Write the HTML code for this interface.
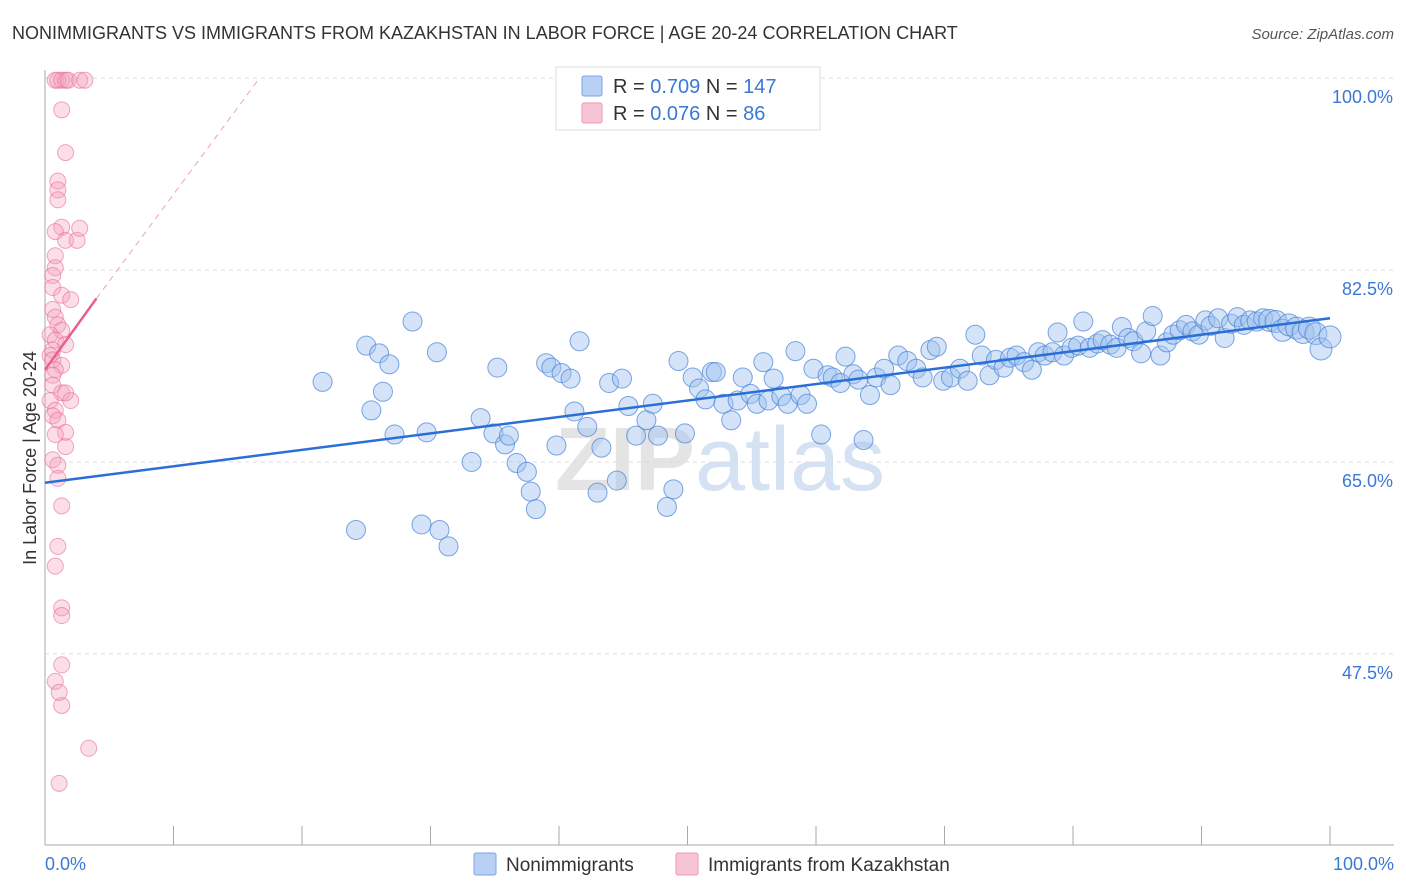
<!DOCTYPE html>
<html><head><meta charset="utf-8"><style>
body{margin:0;background:#fff;font-family:"Liberation Sans",sans-serif}
#wrap{position:relative;width:1406px;height:892px;overflow:hidden}
svg text{font-family:"Liberation Sans",sans-serif}
</style></head><body>
<div id="wrap">
<svg id="c" width="1406" height="892">
<text x="12" y="39" font-size="18" fill="#333">NONIMMIGRANTS VS IMMIGRANTS FROM KAZAKHSTAN IN LABOR FORCE | AGE 20-24 CORRELATION CHART</text>
<text x="1394" y="39" font-size="15" fill="#555" font-style="italic" text-anchor="end">Source: ZipAtlas.com</text>
<text x="36" y="458" font-size="18" fill="#333" text-anchor="middle" transform="rotate(-90 36 458)">In Labor Force | Age 20-24</text>
<text x="720" y="490" font-size="90" fill="#e4e4e4" text-anchor="middle" font-weight="bold">ZIP<tspan fill="#d5e2f3" font-weight="normal">atlas</tspan></text>
<g id="grid"></g><g id="marks"></g>
<g>
<rect x="556" y="67" width="264" height="63" fill="#fff" stroke="#ddd"/>
<rect x="582" y="76" width="20" height="20" fill="#b8d0f3" stroke="#7aa5e6" rx="2"/>
<rect x="582" y="103" width="20" height="20" fill="#f8c5d4" stroke="#ee98b2" rx="2"/>
<text x="613" y="93" font-size="20" fill="#333">R = <tspan fill="#3a78d6">0.709</tspan>   N = <tspan fill="#3a78d6">147</tspan></text>
<text x="613" y="120" font-size="20" fill="#333">R = <tspan fill="#3a78d6">0.076</tspan>   N =   <tspan fill="#3a78d6">86</tspan></text>
</g>
<g>
<rect x="474" y="853" width="22" height="22" fill="#b8d0f3" stroke="#7aa5e6" rx="2"/>
<text x="506" y="871" font-size="19" fill="#333">Nonimmigrants</text>
<rect x="676" y="853" width="22" height="22" fill="#f8c5d4" stroke="#ee98b2" rx="2"/>
<text x="708" y="871" font-size="19" fill="#333">Immigrants from Kazakhstan</text>
</g>
</svg>
</div>
<script>
const yTicks=[100,82.5,65,47.5];
const yTickLabels=["100.0%","82.5%","65.0%","47.5%"];
const xTickLabels=["0.0%","100.0%"];
const blueX=[21.6,25,26,26.8,25.4,26.3,28.6,27.2,29.7,30.5,24.2,29.3,30.7,31.4,33.2,33.9,35.2,34.9,35.8,36.1,36.7,37.5,37.8,38.2,39,39.4,40.2,40.9,41.2,39.8,41.6,42.2,43,43.3,43.9,44.5,44.9,45.4,46,46.8,47.3,47.7,48.4,48.9,49.3,49.8,50.4,50.9,51.4,51.9,52.2,52.8,53.4,53.9,54.3,54.9,55.4,55.9,56.3,56.7,57.3,57.8,58.4,58.8,59.3,59.8,60.4,60.9,61.3,61.9,62.3,62.9,63.3,63.7,64.2,64.7,65.3,65.8,66.4,67.1,67.8,68.3,68.9,69.4,69.9,70.5,71.2,71.8,72.4,72.9,73.5,74,74.6,75.1,75.6,76.2,76.8,77.3,77.8,78.4,78.8,79.3,79.9,80.4,80.8,81.3,81.9,82.3,82.9,83.4,83.8,84.3,84.7,85.3,85.7,86.2,86.8,87.3,87.8,88.3,88.8,89.3,89.8,90.3,90.7,91.3,91.8,92.3,92.8,93.3,93.8,94.3,94.8,95.3,95.8,96.3,96.8,97.4,97.9,98.4,98.9,99.3,100];
const blueY=[72.3,75.6,74.9,73.9,69.7,71.4,77.8,67.5,67.7,75,58.8,59.3,58.8,57.3,65,69,73.6,67.6,66.6,67.4,64.9,64.1,62.3,60.7,74,73.6,73.1,72.6,69.6,66.5,76,68.2,62.2,66.3,72.2,63.3,72.6,70.1,67.4,68.8,70.3,67.4,60.9,62.5,74.2,67.6,72.7,71.7,70.7,73.2,73.2,70.3,68.8,70.6,72.7,71.2,70.3,74.1,70.6,72.6,71,70.3,75.1,71.1,70.3,73.5,67.5,72.9,72.7,72.2,74.6,73,72.5,67,71.1,72.7,73.5,72,74.7,74.2,73.5,72.7,75.2,75.5,72.4,72.7,73.5,72.4,76.6,74.7,72.9,74.3,73.6,74.5,74.7,74.1,73.4,75,74.7,75,76.8,74.7,75.4,75.6,77.8,75.4,75.8,76.1,75.7,75.4,77.3,76.3,76,74.9,76.9,78.3,74.7,75.9,76.6,77,77.5,76.9,76.6,77.9,77.4,78.1,76.3,77.6,78.2,77.5,77.9,77.8,78.1,77.9,77.8,77,77.5,77.2,76.8,77.2,76.7,75.3,76.4];
const pinkX=[0.8,1,1.3,1.6,1.8,2.7,3.1,1.3,1.6,1,1,1,1.3,0.8,1.6,2.5,2.7,0.8,0.8,0.6,0.6,1.3,2,0.6,0.8,1,1.3,0.4,0.8,1.6,0.6,0.4,0.6,1.3,0.8,0.6,0.6,1.3,0.4,2,1.6,0.8,0.6,1,1.6,0.8,1.6,0.6,1,1,1.3,1,0.8,1.3,1.3,1.3,0.8,1.3,1.1,3.4,1.1];
const pinkY=[99.8,99.8,99.8,99.8,99.8,99.8,99.8,97.1,93.2,90.6,89.8,88.9,86.4,86,85.2,85.2,86.3,83.8,82.7,82,80.9,80.2,79.8,78.9,78.2,77.5,77,76.6,76.1,75.7,75.2,74.7,74.3,73.8,73.4,72.9,72,71.3,70.6,70.6,71.3,69.7,69.2,68.8,67.7,67.5,66.4,65.2,64.7,63.5,61,57.3,55.5,51.7,51,46.5,45,42.8,44,38.9,35.7];
const blueTrend=[[0,63.1],[100,78.1]];
const pinkTrend=[[0,73.4],[4,79.9]];
const pinkDash=[[4,79.9],[16.7,100]];
const X=v=>45+v*12.85, Y=v=>78+(100-v)*10.97;
const NS="http://www.w3.org/2000/svg";
function mk(tag,attrs,parent){const e=document.createElementNS(NS,tag);for(const k in attrs)e.setAttribute(k,attrs[k]);parent.appendChild(e);return e;}
const grid=document.getElementById('grid'), marks=document.getElementById('marks');
yTicks.forEach((t,i)=>{
 const l=mk('line',{x1:45,x2:1394,y1:Y(t),y2:Y(t),stroke:'#ddd','stroke-dasharray':'4,4'},grid);
 
 
 const tx=mk('text',{x:1393,y:Y(t)+25,'font-size':18,fill:'#3a78d6','text-anchor':'end'},grid);
 tx.textContent=yTickLabels[i];
 
 
});
const ax=mk('line',{x1:45,x2:45,y1:70,y2:845,stroke:'#aaa'},grid);


const bx=mk('line',{x1:45,x2:1394,y1:845,y2:845,stroke:'#aaa'},grid);


for(let i=0;i<=10;i++){const t=mk('line',{x1:X(i*10),x2:X(i*10),y1:826,y2:845,stroke:'#aaa'},grid);
 
 }
[[0,45,'start'],[100,1394,'end']].forEach((d,i)=>{const t=mk('text',{x:d[1],y:870,'font-size':18,fill:'#3a78d6','text-anchor':d[2]},grid);t.textContent=xTickLabels[i];
 
 });
pinkX.forEach((x,i)=>{const c=mk('circle',{cx:X(x),cy:Y(pinkY[i]),r:8,fill:'rgba(244,160,188,0.35)',stroke:'rgba(232,110,150,0.6)'},marks);
 
 });
blueX.forEach((x,i)=>{const c=mk('circle',{cx:X(x),cy:Y(blueY[i]),r:(x>95?11:9.5),fill:'rgba(160,192,238,0.45)',stroke:'rgba(70,130,215,0.7)'},marks);
 
 });
const bl=mk('line',{x1:X(blueTrend[0][0]),y1:Y(blueTrend[0][1]),x2:X(blueTrend[1][0]),y2:Y(blueTrend[1][1]),stroke:'#2a6fd6','stroke-width':2.5},marks);


const pl=mk('line',{x1:X(pinkTrend[0][0]),y1:Y(pinkTrend[0][1]),x2:X(pinkTrend[1][0]),y2:Y(pinkTrend[1][1]),stroke:'#e8608c','stroke-width':2.5},marks);


const pd=mk('line',{x1:X(pinkDash[0][0]),y1:Y(pinkDash[0][1]),x2:X(pinkDash[1][0]),y2:Y(pinkDash[1][1]),stroke:'#f0a0b8','stroke-width':1,'stroke-dasharray':'6,5'},marks);


</script>
</body></html>
